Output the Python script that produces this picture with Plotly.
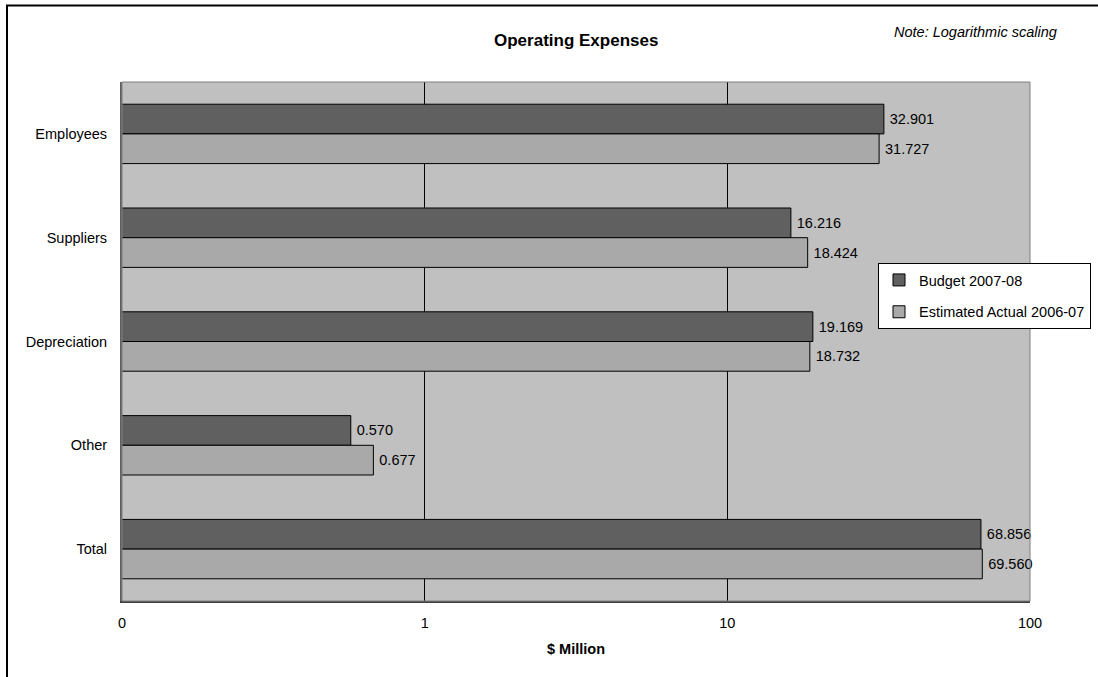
import plotly.graph_objects as go

# Operating expenses by category ($ million), log-scaled horizontal bars
categories = ["Employees", "Suppliers", "Depreciation", "Other", "Total"]
budget_2007_08 = [32.901, 16.216, 19.169, 0.570, 68.856]
estimated_2006_07 = [31.727, 18.424, 18.732, 0.677, 69.560]

series_names = ["Budget 2007-08", "Estimated Actual 2006-07"]
tick_values = [0.1, 1, 10, 100]
tick_labels = ["0", "1", "10", "100"]

W, H = 1098, 677
L, R, T, B = 122, 68, 82, 76
PW, PH = W - L - R, H - T - B

FONT = "Liberation Sans, Arial, sans-serif"
FS = 14.5


def px_x(px):
    return (px - L) / PW


def px_y(py):
    return (H - B - py) / PH


fig = go.Figure()
for name, vals, color, grp in [
    (series_names[0], budget_2007_08, "#606060", "a"),
    (series_names[1], estimated_2006_07, "#a9a9a9", "b"),
]:
    fig.add_trace(go.Bar(
        y=categories,
        x=vals,
        name=name,
        orientation="h",
        legendgroup=grp,
        marker=dict(color=color, line=dict(color="#000000", width=1)),
        text=["\u2009" + f"{v:.3f}" for v in vals],
        textposition="outside",
        textfont=dict(family=FONT, size=FS, color="#000000"),
        cliponaxis=False,
        hoverinfo="skip",
    ))

shapes = [
    # plot area frame
    dict(type="rect", xref="paper", yref="paper", x0=0, x1=1, y0=0, y1=1,
         line=dict(color="#808080", width=1), layer="above"),
    # outer chart frame (left and top edges)
    dict(type="line", xref="paper", yref="paper",
         x0=px_x(7), x1=px_x(7), y0=px_y(5), y1=px_y(H + 5),
         line=dict(color="#000000", width=2)),
    dict(type="line", xref="paper", yref="paper",
         x0=px_x(6), x1=px_x(W + 5), y0=px_y(5.5), y1=px_y(5.5),
         line=dict(color="#000000", width=2)),
]

annotations = [
    dict(text="Note: Logarithmic scaling", xref="paper", yref="paper",
         x=px_x(1059), y=px_y(32), xanchor="right", yanchor="middle",
         showarrow=False,
         font=dict(family=FONT, size=FS, color="#000000", style="italic")),
    dict(text="<b>Operating Expenses</b>", xref="paper", yref="paper",
         x=px_x(576), y=px_y(41), xanchor="center", yanchor="middle",
         showarrow=False, font=dict(family=FONT, size=17, color="#000000")),
    dict(text="<b>$ Million</b>", xref="paper", yref="paper",
         x=px_x(576), y=px_y(649), xanchor="center", yanchor="middle",
         showarrow=False, font=dict(family=FONT, size=FS, color="#000000")),
]

fig.update_layout(
    width=W, height=H,
    margin=dict(l=L, r=R, t=T, b=B, autoexpand=False),
    paper_bgcolor="#ffffff",
    plot_bgcolor="#c0c0c0",
    barmode="group",
    bargap=0.428,
    bargroupgap=0,
    font=dict(family=FONT, size=FS, color="#000000"),
    showlegend=True,
    legend=dict(
        x=px_x(878), y=px_y(263), xanchor="left", yanchor="top",
        bgcolor="#ffffff", bordercolor="#000000", borderwidth=1,
        font=dict(family=FONT, size=FS, color="#000000"),
        itemwidth=30, tracegroupgap=10,
        traceorder="grouped",
    ),
    xaxis=dict(
        type="log",
        range=[-1, 2],
        tickvals=tick_values,
        ticktext=tick_labels,
        showgrid=True,
        gridcolor="#000000",
        gridwidth=1,
        showline=True,
        linecolor="#404040",
        linewidth=2,
        ticks="",
        ticklabelstandoff=8,
        zeroline=False,
        tickfont=dict(family=FONT, size=FS, color="#000000"),
    ),
    yaxis=dict(
        categoryorder="array",
        categoryarray=categories,
        autorange="reversed",
        showgrid=False,
        showline=True,
        linecolor="#606060",
        linewidth=2,
        ticks="",
        ticklabelstandoff=10,
        tickfont=dict(family=FONT, size=FS, color="#000000"),
    ),
    shapes=shapes,
    annotations=annotations,
)

fig.write_html("out.html")
